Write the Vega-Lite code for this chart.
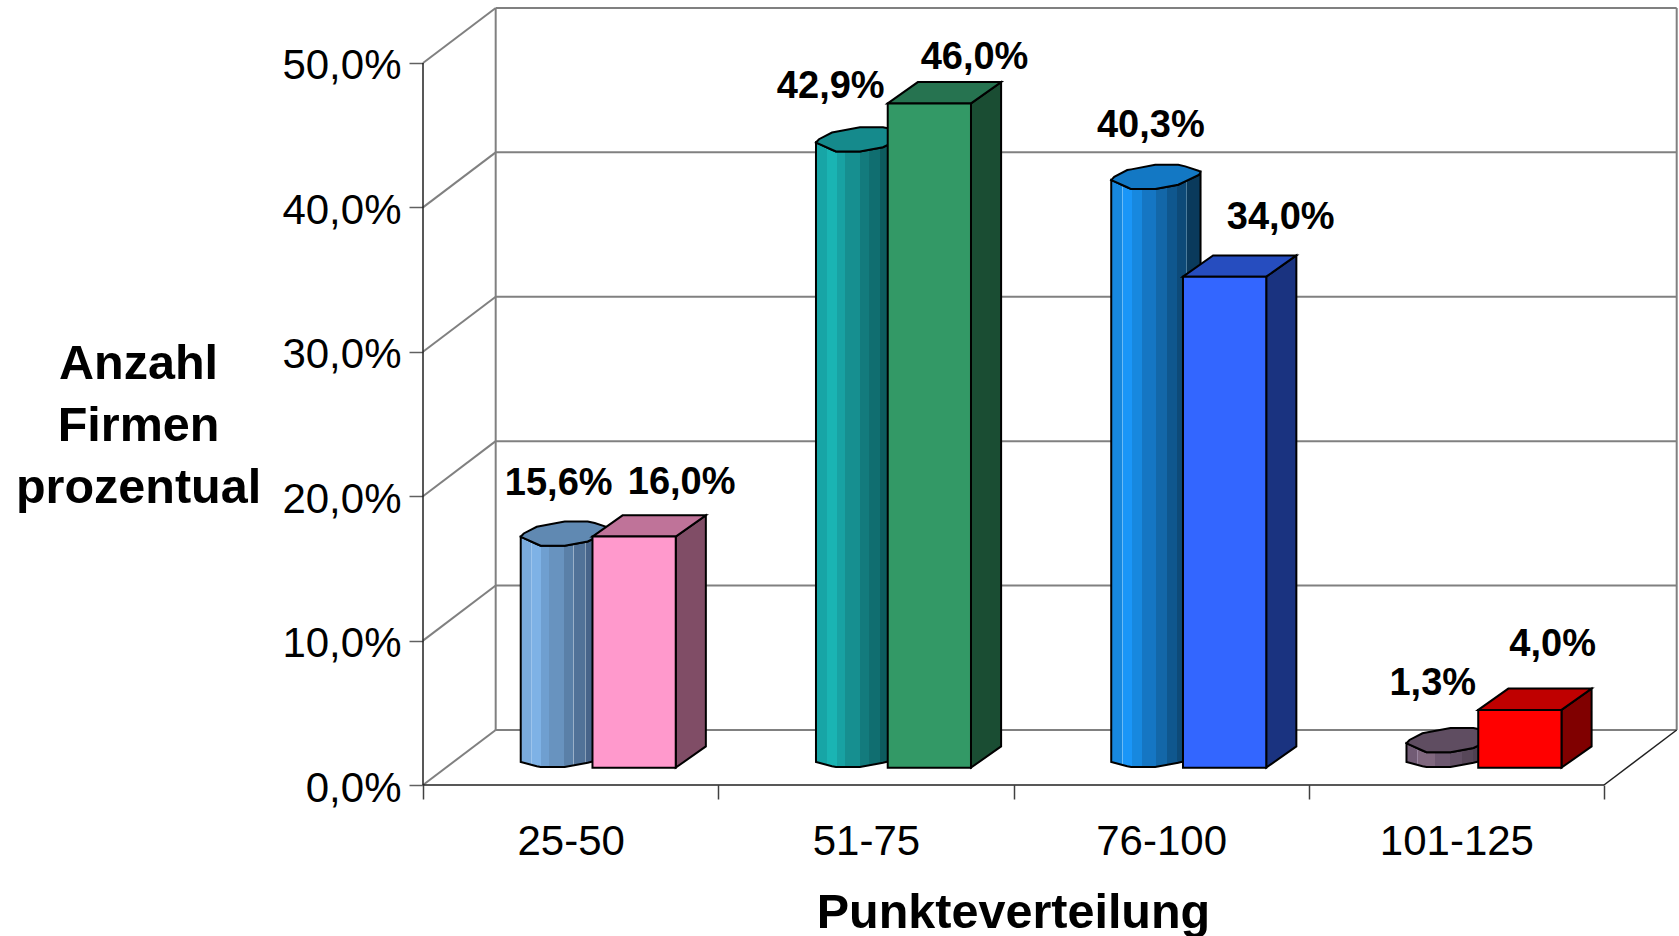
{"$schema":"https://vega.github.io/schema/vega-lite/v6.json","autosize":{"type":"none"},"padding":{"left":423,"top":0,"right":0,"bottom":151},"width":1256,"height":785,"background":"white","config":{"view":{"stroke":null},"font":"Liberation Sans"},
"datasets":{
"frame":[
{"kind":"wall","x":0.2462,"x2":4.2462,"y":3.81,"y2":3.81},{"kind":"wall","x":0.2462,"x2":4.2462,"y":13.81,"y2":13.81},{"kind":"wall","x":0.2462,"x2":4.2462,"y":23.81,"y2":23.81},{"kind":"wall","x":0.2462,"x2":4.2462,"y":33.81,"y2":33.81},{"kind":"wall","x":0.2462,"x2":4.2462,"y":43.81,"y2":43.81},{"kind":"wall","x":0.2462,"x2":4.2462,"y":53.81,"y2":53.81},
{"kind":"wall","x":0,"x2":0.2462,"y":0,"y2":3.81},{"kind":"wall","x":0,"x2":0.2462,"y":10,"y2":13.81},{"kind":"wall","x":0,"x2":0.2462,"y":20,"y2":23.81},{"kind":"wall","x":0,"x2":0.2462,"y":30,"y2":33.81},{"kind":"wall","x":0,"x2":0.2462,"y":40,"y2":43.81},{"kind":"wall","x":0,"x2":0.2462,"y":50,"y2":53.81},
{"kind":"wall","x":0.2462,"x2":0.2462,"y":3.81,"y2":53.81},{"kind":"wall","x":4.2462,"x2":4.2462,"y":3.81,"y2":53.81},
{"kind":"front","x":0,"x2":0,"y":0,"y2":50},{"kind":"front","x":0,"x2":4,"y":0,"y2":0},{"kind":"front","x":4,"x2":4.2462,"y":0,"y2":3.81}
],
"cyl":[
{"c":"25-50","x":0.331,"eu":17.19,"el":17.19,"bb":1.59},{"c":"25-50","x":0.3412,"eu":17.419,"el":17.097,"bb":1.54},{"c":"25-50","x":0.3852,"eu":17.883,"el":16.691,"bb":1.30},{"c":"25-50","x":0.3987,"eu":17.931,"el":16.567,"bb":1.244},{"c":"25-50","x":0.48,"eu":18.25,"el":16.567,"bb":1.244},{"c":"25-50","x":0.5579,"eu":18.25,"el":16.865,"bb":1.54},{"c":"25-50","x":0.5816,"eu":18.139,"el":17.1,"bb":1.66},{"c":"25-50","x":0.629,"eu":17.82,"el":17.557,"bb":2.14},{"c":"25-50","x":0.6335,"eu":17.792,"el":17.792,"bb":2.19},
{"c":"51-75","x":1.331,"eu":44.49,"el":44.49,"bb":1.59},{"c":"51-75","x":1.3412,"eu":44.719,"el":44.397,"bb":1.54},{"c":"51-75","x":1.3852,"eu":45.183,"el":43.991,"bb":1.30},{"c":"51-75","x":1.3987,"eu":45.231,"el":43.867,"bb":1.244},{"c":"51-75","x":1.48,"eu":45.55,"el":43.867,"bb":1.244},{"c":"51-75","x":1.5579,"eu":45.55,"el":44.165,"bb":1.54},{"c":"51-75","x":1.5816,"eu":45.439,"el":44.4,"bb":1.66},{"c":"51-75","x":1.629,"eu":45.12,"el":44.857,"bb":2.14},{"c":"51-75","x":1.6335,"eu":45.092,"el":45.092,"bb":2.19},
{"c":"76-100","x":2.331,"eu":41.89,"el":41.89,"bb":1.59},{"c":"76-100","x":2.3412,"eu":42.119,"el":41.797,"bb":1.54},{"c":"76-100","x":2.3852,"eu":42.583,"el":41.391,"bb":1.30},{"c":"76-100","x":2.3987,"eu":42.631,"el":41.267,"bb":1.244},{"c":"76-100","x":2.48,"eu":42.95,"el":41.267,"bb":1.244},{"c":"76-100","x":2.5579,"eu":42.95,"el":41.565,"bb":1.54},{"c":"76-100","x":2.5816,"eu":42.839,"el":41.8,"bb":1.66},{"c":"76-100","x":2.629,"eu":42.52,"el":42.257,"bb":2.14},{"c":"76-100","x":2.6335,"eu":42.492,"el":42.492,"bb":2.19},
{"c":"101-125","x":3.331,"eu":2.89,"el":2.89,"bb":1.59},{"c":"101-125","x":3.3412,"eu":3.119,"el":2.797,"bb":1.54},{"c":"101-125","x":3.3852,"eu":3.583,"el":2.391,"bb":1.30},{"c":"101-125","x":3.3987,"eu":3.631,"el":2.267,"bb":1.244},{"c":"101-125","x":3.48,"eu":3.95,"el":2.267,"bb":1.244},{"c":"101-125","x":3.5579,"eu":3.95,"el":2.565,"bb":1.54},{"c":"101-125","x":3.5816,"eu":3.839,"el":2.8,"bb":1.66},{"c":"101-125","x":3.629,"eu":3.52,"el":3.257,"bb":2.14},{"c":"101-125","x":3.6335,"eu":3.492,"el":3.492,"bb":2.19}
],
"faces":[
{"face":"25-50 side","x":0.856,"y":17.2,"y2":1.2},{"face":"25-50 side","x":0.958,"y":18.675,"y2":2.675},
{"face":"25-50 top","x":0.574,"y":17.2,"y2":17.2},{"face":"25-50 top","x":0.676,"y":18.675,"y2":17.2},{"face":"25-50 top","x":0.856,"y":18.675,"y2":17.2},{"face":"25-50 top","x":0.958,"y":18.675,"y2":18.675},
{"face":"25-50 front","x":0.574,"y":17.2,"y2":1.2},{"face":"25-50 front","x":0.856,"y":17.2,"y2":1.2},
{"face":"51-75 side","x":1.856,"y":47.2,"y2":1.2},{"face":"51-75 side","x":1.958,"y":48.675,"y2":2.675},
{"face":"51-75 top","x":1.574,"y":47.2,"y2":47.2},{"face":"51-75 top","x":1.676,"y":48.675,"y2":47.2},{"face":"51-75 top","x":1.856,"y":48.675,"y2":47.2},{"face":"51-75 top","x":1.958,"y":48.675,"y2":48.675},
{"face":"51-75 front","x":1.574,"y":47.2,"y2":1.2},{"face":"51-75 front","x":1.856,"y":47.2,"y2":1.2},
{"face":"76-100 side","x":2.856,"y":35.2,"y2":1.2},{"face":"76-100 side","x":2.958,"y":36.675,"y2":2.675},
{"face":"76-100 top","x":2.574,"y":35.2,"y2":35.2},{"face":"76-100 top","x":2.676,"y":36.675,"y2":35.2},{"face":"76-100 top","x":2.856,"y":36.675,"y2":35.2},{"face":"76-100 top","x":2.958,"y":36.675,"y2":36.675},
{"face":"76-100 front","x":2.574,"y":35.2,"y2":1.2},{"face":"76-100 front","x":2.856,"y":35.2,"y2":1.2},
{"face":"101-125 side","x":3.856,"y":5.2,"y2":1.2},{"face":"101-125 side","x":3.958,"y":6.675,"y2":2.675},
{"face":"101-125 top","x":3.574,"y":5.2,"y2":5.2},{"face":"101-125 top","x":3.676,"y":6.675,"y2":5.2},{"face":"101-125 top","x":3.856,"y":6.675,"y2":5.2},{"face":"101-125 top","x":3.958,"y":6.675,"y2":6.675},
{"face":"101-125 front","x":3.574,"y":5.2,"y2":1.2},{"face":"101-125 front","x":3.856,"y":5.2,"y2":1.2}
],
"labels":[
{"t":"15,6%","x":0.4596,"y":20.86},{"t":"16,0%","x":0.876,"y":20.89},{"t":"42,9%","x":1.381,"y":48.34},{"t":"46,0%","x":1.868,"y":50.35},{"t":"40,3%","x":2.465,"y":45.66},{"t":"34,0%","x":2.905,"y":39.24},{"t":"1,3%","x":3.42,"y":6.96},{"t":"4,0%","x":3.826,"y":9.71}
]},
"layer":[
{"data":{"name":"frame"},"transform":[{"filter":"datum.kind=='wall'"}],"mark":{"type":"rule","color":"#808080","strokeWidth":2},
"encoding":{
"x":{"field":"x","type":"quantitative","scale":{"domain":[0,4.254],"nice":false,"zero":false},
"axis":{"title":"Punkteverteilung","titleFontSize":48.5,"titleFontWeight":"bold","titleColor":"black","titleX":590,"titleY":142,"titleAlign":"center","titleBaseline":"alphabetic","values":[0,0.5,1,1.5,2,2.5,3,3.5,4],"labelExpr":"datum.value==0.5?'25-50':datum.value==1.5?'51-75':datum.value==2.5?'76-100':datum.value==3.5?'101-125':''","labelFontSize":42,"labelColor":"black","labelPadding":22,"labelOverlap":false,"labelBound":false,"labelFlush":false,"tickSize":14,"tickColor":"#404040","tickWidth":1.5,"tickOpacity":{"expr":"datum.value%1==0?1:0"},"domain":false,"grid":false}},
"x2":{"field":"x2"},
"y":{"field":"y","type":"quantitative","scale":{"domain":[0,54.36],"nice":false,"zero":false},
"axis":{"title":["Anzahl","Firmen","prozentual"],"titleFontSize":48.5,"titleFontWeight":"bold","titleColor":"black","titleAngle":0,"titleX":-285,"titleY":378,"titleAlign":"center","titleBaseline":"alphabetic","titleLineHeight":62,"values":[0,10,20,30,40,50],"labelExpr":"replace(format(datum.value,'.1f'),'.',',')+'%'","labelFontSize":42,"labelColor":"black","labelPadding":8,"labelOffset":3,"tickSize":14,"tickColor":"#606060","tickWidth":1.5,"domain":false,"grid":false}},
"y2":{"field":"y2"}}},
{"data":{"name":"frame"},"transform":[{"filter":"datum.kind=='front'"}],"mark":{"type":"rule","color":"#202020","strokeWidth":1.5},
"encoding":{"x":{"field":"x","type":"quantitative"},"x2":{"field":"x2"},"y":{"field":"y","type":"quantitative"},"y2":{"field":"y2"}}},
{"data":{"name":"cyl"},"transform":[{"filter":"datum.c=='25-50'"}],"mark":{"type":"area","orient":"vertical","stroke":"black","strokeWidth":2,"fill":{"gradient":"linear","x1":0,"x2":1,"y1":0,"y2":0,"stops":[{"offset":0,"color":"#7AABDD"},{"offset":0.12,"color":"#7AABDD"},{"offset":0.12,"color":"#9CC4EC"},{"offset":0.128,"color":"#9CC4EC"},{"offset":0.128,"color":"#7EB2E6"},{"offset":0.23,"color":"#7EB2E6"},{"offset":0.23,"color":"#6F9FD0"},{"offset":0.32,"color":"#6F9FD0"},{"offset":0.32,"color":"#6893BF"},{"offset":0.49,"color":"#6893BF"},{"offset":0.49,"color":"#5A80A8"},{"offset":0.59,"color":"#5A80A8"},{"offset":0.59,"color":"#9AB0C8"},{"offset":0.597,"color":"#9AB0C8"},{"offset":0.597,"color":"#517298"},{"offset":0.72,"color":"#517298"},{"offset":0.72,"color":"#8AA0B8"},{"offset":0.727,"color":"#8AA0B8"},{"offset":0.727,"color":"#47648A"},{"offset":0.85,"color":"#47648A"},{"offset":0.85,"color":"#3E5878"},{"offset":1,"color":"#3E5878"}]}},
"encoding":{"x":{"field":"x","type":"quantitative"},"y":{"field":"el","type":"quantitative","stack":null},"y2":{"field":"bb"}}},
{"data":{"name":"cyl"},"transform":[{"filter":"datum.c=='51-75'"}],"mark":{"type":"area","orient":"vertical","stroke":"black","strokeWidth":2,"fill":{"gradient":"linear","x1":0,"x2":1,"y1":0,"y2":0,"stops":[{"offset":0,"color":"#17A5A6"},{"offset":0.12,"color":"#17A5A6"},{"offset":0.12,"color":"#7CD0D0"},{"offset":0.128,"color":"#7CD0D0"},{"offset":0.128,"color":"#1AB4B3"},{"offset":0.23,"color":"#1AB4B3"},{"offset":0.23,"color":"#18A2A3"},{"offset":0.32,"color":"#18A2A3"},{"offset":0.32,"color":"#168F90"},{"offset":0.49,"color":"#168F90"},{"offset":0.49,"color":"#137B7D"},{"offset":0.59,"color":"#137B7D"},{"offset":0.59,"color":"#6AA8AA"},{"offset":0.597,"color":"#6AA8AA"},{"offset":0.597,"color":"#106E70"},{"offset":0.72,"color":"#106E70"},{"offset":0.72,"color":"#0D5C5E"},{"offset":1,"color":"#0D5C5E"}]}},
"encoding":{"x":{"field":"x","type":"quantitative"},"y":{"field":"el","type":"quantitative","stack":null},"y2":{"field":"bb"}}},
{"data":{"name":"cyl"},"transform":[{"filter":"datum.c=='76-100'"}],"mark":{"type":"area","orient":"vertical","stroke":"black","strokeWidth":2,"fill":{"gradient":"linear","x1":0,"x2":1,"y1":0,"y2":0,"stops":[{"offset":0,"color":"#1788DF"},{"offset":0.12,"color":"#1788DF"},{"offset":0.12,"color":"#6ABAF5"},{"offset":0.128,"color":"#6ABAF5"},{"offset":0.128,"color":"#1A96F8"},{"offset":0.23,"color":"#1A96F8"},{"offset":0.23,"color":"#1788DF"},{"offset":0.35,"color":"#1788DF"},{"offset":0.35,"color":"#1576C3"},{"offset":0.5,"color":"#1576C3"},{"offset":0.5,"color":"#1367A8"},{"offset":0.62,"color":"#1367A8"},{"offset":0.62,"color":"#5A94C0"},{"offset":0.627,"color":"#5A94C0"},{"offset":0.627,"color":"#0F578E"},{"offset":0.74,"color":"#0F578E"},{"offset":0.74,"color":"#0D4A78"},{"offset":0.84,"color":"#0D4A78"},{"offset":0.84,"color":"#4C7C9C"},{"offset":0.847,"color":"#4C7C9C"},{"offset":0.847,"color":"#0A3A5C"},{"offset":1,"color":"#0A3A5C"}]}},
"encoding":{"x":{"field":"x","type":"quantitative"},"y":{"field":"el","type":"quantitative","stack":null},"y2":{"field":"bb"}}},
{"data":{"name":"cyl"},"transform":[{"filter":"datum.c=='101-125'"}],"mark":{"type":"area","orient":"vertical","stroke":"black","strokeWidth":2,"fill":{"gradient":"linear","x1":0,"x2":1,"y1":0,"y2":0,"stops":[{"offset":0,"color":"#725C75"},{"offset":0.12,"color":"#725C75"},{"offset":0.12,"color":"#9A86A0"},{"offset":0.128,"color":"#9A86A0"},{"offset":0.128,"color":"#80687F"},{"offset":0.32,"color":"#80687F"},{"offset":0.32,"color":"#6D5870"},{"offset":0.49,"color":"#6D5870"},{"offset":0.49,"color":"#625065"},{"offset":0.62,"color":"#625065"},{"offset":0.62,"color":"#8A7A8C"},{"offset":0.627,"color":"#8A7A8C"},{"offset":0.627,"color":"#574759"},{"offset":0.75,"color":"#574759"},{"offset":0.75,"color":"#4F4051"},{"offset":1,"color":"#4F4051"}]}},
"encoding":{"x":{"field":"x","type":"quantitative"},"y":{"field":"el","type":"quantitative","stack":null},"y2":{"field":"bb"}}},
{"data":{"name":"cyl"},"mark":{"type":"area","orient":"vertical","stroke":"black","strokeWidth":2},
"encoding":{"x":{"field":"x","type":"quantitative"},"y":{"field":"eu","type":"quantitative","stack":null},"y2":{"field":"el"},
"color":{"field":"c","type":"nominal","legend":null,"scale":{"domain":["25-50","51-75","76-100","101-125","25-50 side","25-50 top","25-50 front","51-75 side","51-75 top","51-75 front","76-100 side","76-100 top","76-100 front","101-125 side","101-125 top","101-125 front"],"range":["#6089B2","#158A8C","#1378C4","#5F4D61","#804D66","#BF7399","#FF99CC","#1A4D33","#267350","#339966","#1A3380","#264DBF","#3366FF","#800000","#BF0000","#FF0000"]}}}},
{"data":{"name":"faces"},"mark":{"type":"area","orient":"vertical","stroke":"black","strokeWidth":2},
"encoding":{"x":{"field":"x","type":"quantitative"},"y":{"field":"y","type":"quantitative","stack":null},"y2":{"field":"y2"},
"color":{"field":"face","type":"nominal","legend":null}}},
{"data":{"name":"labels"},"mark":{"type":"text","font":"Liberation Sans","fontWeight":"bold","fontSize":38,"color":"black","align":"center","baseline":"middle"},
"encoding":{"x":{"field":"x","type":"quantitative"},"y":{"field":"y","type":"quantitative"},"text":{"field":"t"}}}
]}
